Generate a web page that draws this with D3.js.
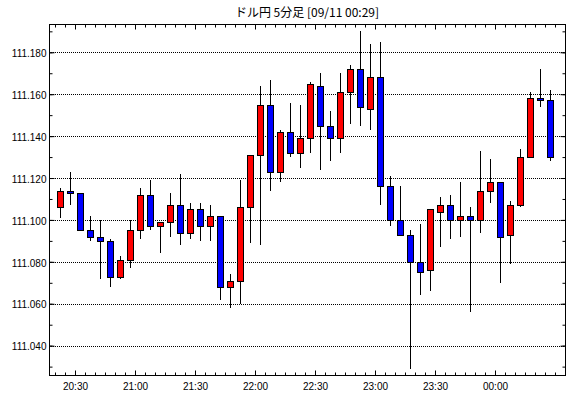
<!DOCTYPE html>
<html>
<head>
<meta charset="utf-8">
<script src="https://cdn.jsdelivr.net/npm/d3@7"></script>
<style>
  body { margin: 0; background: #fff; }
  svg text { font-family: "Liberation Sans", Arial, sans-serif; font-size: 10px; fill: #000; }
  .title { font-family: "Noto Sans CJK JP", sans-serif; font-size: 12px; }
</style>
</head>
<body>
<div id="chart"></div>
<script>
// 5-minute candles, start time of each bar
const times = [
  "20:20", "20:25", "20:30", "20:35", "20:40", "20:45", "20:50", "20:55",
  "21:00", "21:05", "21:10", "21:15", "21:20", "21:25", "21:30", "21:35",
  "21:40", "21:45", "21:50", "21:55", "22:00", "22:05", "22:10", "22:15",
  "22:20", "22:25", "22:30", "22:35", "22:40", "22:45", "22:50", "22:55",
  "23:00", "23:05", "23:10", "23:15", "23:20", "23:25", "23:30", "23:35",
  "23:40", "23:45", "23:50", "23:55", "00:00", "00:05", "00:10", "00:15",
  "00:20", "00:25"
];
const opens = [
  111.106, 111.114, 111.113, 111.095, 111.092, 111.090, 111.073, 111.081,
  111.095, 111.112, 111.097, 111.099, 111.107, 111.094, 111.105, 111.097,
  111.102, 111.068, 111.071, 111.106, 111.131, 111.155, 111.123, 111.142,
  111.132, 111.139, 111.164, 111.145, 111.139, 111.161, 111.172, 111.153,
  111.168, 111.116, 111.100, 111.093, 111.080, 111.076, 111.104, 111.107,
  111.100, 111.102, 111.100, 111.114, 111.118, 111.093, 111.107, 111.130,
  111.158, 111.157
];
const highs = [
  111.115, 111.123, 111.113, 111.102, 111.100, 111.091, 111.083, 111.100,
  111.115, 111.119, 111.099, 111.113, 111.122, 111.108, 111.108, 111.107,
  111.102, 111.074, 111.119, 111.131, 111.164, 111.167, 111.143, 111.156,
  111.155, 111.166, 111.170, 111.152, 111.170, 111.174, 111.190, 111.184,
  111.185, 111.121, 111.116, 111.095, 111.098, 111.105, 111.111, 111.112,
  111.118, 111.106, 111.133, 111.129, 111.118, 111.109, 111.134, 111.161,
  111.172, 111.162
];
const lows = [
  111.101, 111.107, 111.095, 111.090, 111.072, 111.068, 111.072, 111.077,
  111.091, 111.095, 111.084, 111.092, 111.088, 111.091, 111.090, 111.090,
  111.062, 111.058, 111.060, 111.089, 111.088, 111.114, 111.118, 111.130,
  111.125, 111.132, 111.124, 111.128, 111.132, 111.146, 111.145, 111.143,
  111.107, 111.097, 111.093, 111.029, 111.064, 111.066, 111.087, 111.091,
  111.092, 111.056, 111.094, 111.108, 111.070, 111.079, 111.106, 111.130,
  111.154, 111.128
];
const closes = [
  111.114, 111.113, 111.095, 111.092, 111.090, 111.073, 111.081, 111.095,
  111.112, 111.097, 111.099, 111.107, 111.094, 111.105, 111.097, 111.102,
  111.068, 111.071, 111.106, 111.131, 111.155, 111.123, 111.142, 111.132,
  111.139, 111.165, 111.145, 111.139, 111.161, 111.172, 111.154, 111.168,
  111.116, 111.100, 111.093, 111.080, 111.075, 111.105, 111.107, 111.100,
  111.102, 111.100, 111.114, 111.118, 111.092, 111.107, 111.130, 111.158,
  111.157, 111.130
];
const yTicks = [111.040, 111.060, 111.080, 111.100, 111.120, 111.140, 111.160, 111.180];
const xTickLabels = ["20:30", "21:00", "21:30", "22:00", "22:30", "23:00", "23:30", "00:00"];
const title = "ドル円 5分足 [09/11 00:29]";

const width = 570, height = 398;
const plotLeft = 49, plotRight = 565, plotTop = 24, plotBottom = 375;

// turn "HH:MM" into a date, bars after midnight fall on the next day
function toDate(s) {
  const [h, m] = s.split(":").map(Number);
  return new Date(2019, 8, h < 12 ? 11 : 10, h, m);
}

const data = times.map((t, i) => ({
  t: toDate(t), o: opens[i], h: highs[i], l: lows[i], c: closes[i]
}));

const x = d3.scaleTime()
  .domain([new Date(2019, 8, 10, 20, 17), new Date(2019, 8, 11, 0, 35)])
  .range([plotLeft, plotRight]);

const y = d3.scaleLinear()
  .domain([111.026, 111.1935])
  .range([plotBottom, plotTop]);

const svg = d3.select("#chart").append("svg")
  .attr("width", width)
  .attr("height", height);

// horizontal dotted grid
svg.append("g")
  .selectAll("line")
  .data(yTicks)
  .join("line")
  .attr("x1", plotLeft)
  .attr("x2", plotRight)
  .attr("y1", (d) => Math.round(y(d)) + 0.5)
  .attr("y2", (d) => Math.round(y(d)) + 0.5)
  .attr("stroke", "#000")
  .attr("stroke-dasharray", "1,1");

// axes (ticks point into the plot)
const majorX = xTickLabels.map(toDate);
const minorX = d3.timeMinute.every(5).range(x.domain()[0], x.domain()[1]);
const minorY = d3.range(111.03, 111.1935, 0.01);

function styleAxis(g) {
  g.select(".domain").remove();
  g.selectAll(".tick line").attr("stroke", "#000");
}

svg.append("g")
  .attr("transform", `translate(0,${plotBottom + 0.5})`)
  .call(d3.axisBottom(x).tickValues(minorX).tickSize(-3).tickFormat(""))
  .call(styleAxis);
svg.append("g")
  .attr("transform", `translate(0,${plotBottom + 0.5})`)
  .call(d3.axisBottom(x).tickValues(majorX).tickSize(-5).tickPadding(5)
    .tickFormat(d3.timeFormat("%H:%M")))
  .call(styleAxis)
  .call((g) => g.selectAll("text").attr("dy", "0.9em"));
svg.append("g")
  .attr("transform", `translate(0,${plotTop + 0.5})`)
  .call(d3.axisTop(x).tickValues(minorX).tickSize(-3).tickFormat(""))
  .call(styleAxis);
svg.append("g")
  .attr("transform", `translate(0,${plotTop + 0.5})`)
  .call(d3.axisTop(x).tickValues(majorX).tickSize(-5).tickFormat(""))
  .call(styleAxis);

svg.append("g")
  .attr("transform", `translate(${plotLeft + 0.5},0)`)
  .call(d3.axisLeft(y).tickValues(minorY).tickSize(-3).tickFormat(""))
  .call(styleAxis);
svg.append("g")
  .attr("transform", `translate(${plotLeft + 0.5},0)`)
  .call(d3.axisLeft(y).tickValues(yTicks).tickSize(-5).tickPadding(3)
    .tickFormat(d3.format(".3f")))
  .call(styleAxis)
  .call((g) => g.selectAll("text").attr("dy", "0.42em"));
svg.append("g")
  .attr("transform", `translate(${plotRight + 0.5},0)`)
  .call(d3.axisRight(y).tickValues(minorY).tickSize(-3).tickFormat(""))
  .call(styleAxis);
svg.append("g")
  .attr("transform", `translate(${plotRight + 0.5},0)`)
  .call(d3.axisRight(y).tickValues(yTicks).tickSize(-5).tickFormat(""))
  .call(styleAxis);

// candles
const cx = (d) => Math.round(x(d3.timeSecond.offset(d.t, 150)));
const candles = svg.append("g")
  .selectAll("g")
  .data(data)
  .join("g");

candles.append("line")
  .attr("x1", (d) => cx(d) + 0.5)
  .attr("x2", (d) => cx(d) + 0.5)
  .attr("y1", (d) => Math.round(y(d.h)))
  .attr("y2", (d) => Math.round(y(d.l)))
  .attr("stroke", "#000");

candles.append("rect")
  .attr("x", (d) => cx(d) - 2.5)
  .attr("width", 6)
  .attr("y", (d) => Math.round(y(Math.max(d.o, d.c))) + 0.5)
  .attr("height", (d) => Math.max(1, Math.round(y(Math.min(d.o, d.c))) - Math.round(y(Math.max(d.o, d.c)))))
  .attr("fill", (d) => (d.c >= d.o ? "#ff0000" : "#0000ff"))
  .attr("stroke", "#000");

// frame
svg.append("rect")
  .attr("x", plotLeft + 0.5)
  .attr("y", plotTop + 0.5)
  .attr("width", plotRight - plotLeft)
  .attr("height", plotBottom - plotTop)
  .attr("fill", "none")
  .attr("stroke", "#000");

svg.append("text")
  .attr("class", "title")
  .attr("x", (plotLeft + plotRight) / 2)
  .attr("y", 17)
  .attr("text-anchor", "middle")
  .text(title);
</script>
</body>
</html>
